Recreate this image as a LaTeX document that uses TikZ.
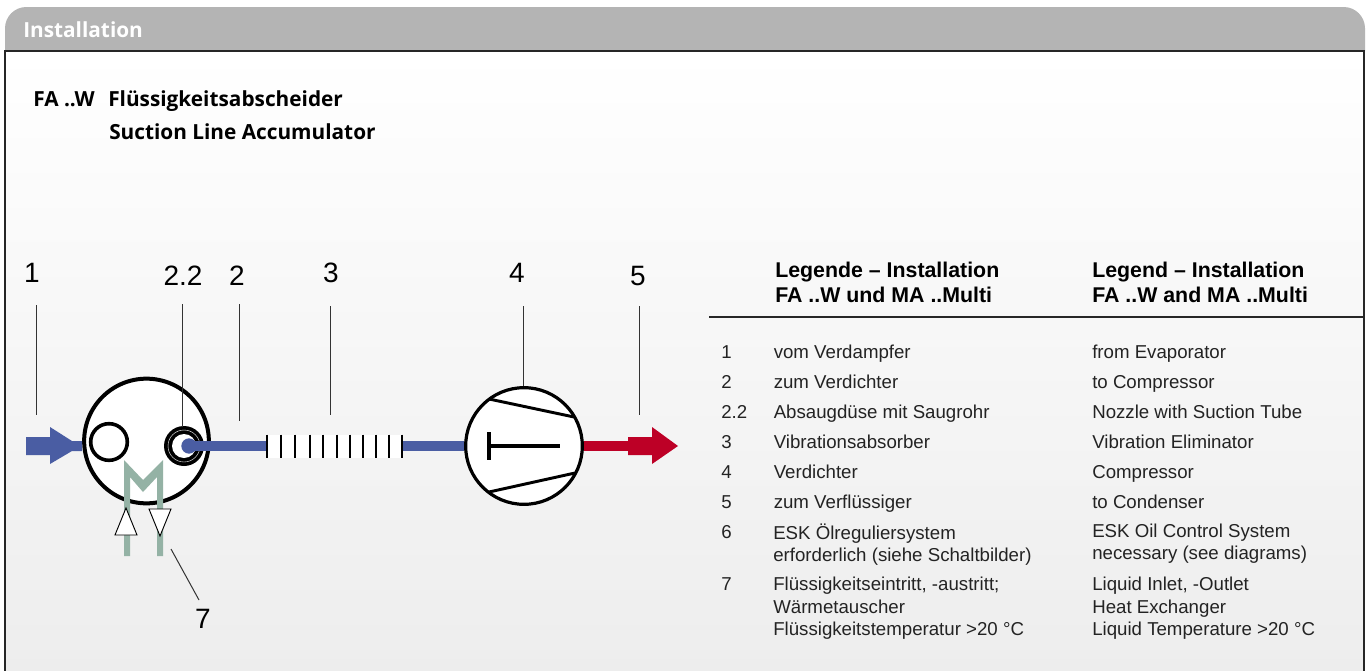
\documentclass[tikz,border=0pt]{standalone}
\usepackage{fontspec}
\setmainfont{Liberation Sans}
\newfontfamily\headfont{Open Sans}
\usepackage{tikz}
\usetikzlibrary{positioning}
\definecolor{tabgray}{RGB}{180,180,180}
\definecolor{pipeblue}{RGB}{74,93,163}
\definecolor{pipered}{RGB}{189,0,38}
\definecolor{coilgreen}{RGB}{148,178,165}
\definecolor{textgray}{RGB}{35,35,35}
\tikzset{
  numlabel/.style = {font=\fontsize{21}{21}\selectfont, inner sep=0pt},
  leader/.style = {draw=black!80, line width=0.75pt},
  ring/.style = {circle, draw, inner sep=0pt},
  bluepipe/.style = {draw=pipeblue, line width=7.5pt},
  redpipe/.style = {draw=pipered, line width=7.5pt},
  legendtext/.style = {font=\fontsize{14}{16.9}\selectfont, text=textgray, anchor=base west, inner sep=0pt, align=left},
  legendblock/.style = {legendtext, anchor=north west},
  legendhead/.style = {font=\fontsize{16}{18.8}\selectfont\bfseries, anchor=west, inner sep=0pt, align=left},
  headline/.style = {font=\headfont\fontsize{15.6}{16}\selectfont\bfseries, anchor=base west, inner sep=0pt}
}
\begin{document}
\begin{tikzpicture}[x=0.75pt, y=-0.75pt]
\useasboundingbox (0,0) rectangle (1371,671);
% panel
\fill[white] (0,0) rectangle (1371,671);
\fill[top color=white, bottom color=black!7] (5,51) rectangle (1364,671);
\fill[tabgray] (5,51) [rounded corners=16pt] -- (5,7) -- (1365,7) [sharp corners] -- (1365,51) -- cycle;
\draw[black!85, line width=1pt] (5,671) -- (5,51) -- (1364,51) -- (1364,671);
\node[headline, text=white] (tab) at (23,37) {Installation};
\node[headline] (title1) at (33,106) {FA ..W};
\node[headline] (title2) at (108,106) {Flüssigkeitsabscheider};
\node[headline] (title3) at (109,139) {Suction Line Accumulator};
% separator
\node[ring, fill=white, line width=3pt, minimum size=93.5pt] (sep) at (146.5,441) {};
\node[ring, line width=2.7pt, minimum size=27.5pt] (port) at (109,442) {};
\node[circle, fill=black, minimum size=30pt, inner sep=0pt] (noz) at (184,446) {};
\node[ring, draw=white, line width=0.3pt, minimum size=24pt] (nozrim) at (184,446) {};
\node[circle, fill=white, minimum size=18pt, inner sep=0pt] (nozin) at (184,446) {};
\node[circle, fill=pipeblue, minimum size=11.5pt, inner sep=0pt] (nozdot) at (189,446) {};
% compressor
\node[ring, fill=white, line width=2.4pt, minimum size=87.5pt] (comp) at (524,446) {};
% vibration absorber
\node[fill=white, minimum width=102pt, minimum height=17.25pt, inner sep=0pt] (vib) at (335,446) {};
\draw[bluepipe] (nozdot.center) -- (vib.west);
\draw[bluepipe] (vib.east) -- (comp.west);
\foreach \xpos in {267,281,295,310,323,337,350,363,376,389,402}
  \draw[black, line width=1.4pt] (\xpos,434.5) -- (\xpos,457.5);
% inlet arrow
\fill[pipeblue] (26,437) -- (50,437) -- (50,427) -- (72,441) -- (82,441) -- (82,451) -- (72,451) -- (50,464) -- (50,455) -- (26,455) -- cycle;
% compressor inside
\draw[line width=2.2pt] (489,399) -- (574,417);
\draw[line width=2.2pt] (489,492) -- (575,473);
\draw[line width=3pt] (489,432) -- (489,460);
\draw[line width=3pt] (489,446) -- (560,446);
% outlet arrow
\coordinate (outA) at (628,446);
\draw[redpipe] (comp.east) -- (outA);
\fill[pipered] (628,437) -- (652,437) -- (652,427) -- (678,446) -- (652,464) -- (652,455) -- (628,455) -- cycle;
% coil
\fill[coilgreen] (124,556) -- (124,460) -- (143,480) -- (163,460) -- (163,556) -- (157,556) -- (157,477) -- (143,492) -- (130,477) -- (130,556) -- cycle;
\draw[fill=white, line width=0.7pt] (126,508) -- (115,535) -- (137,535) -- cycle;
\draw[fill=white, line width=0.7pt] (149,509) -- (171,509) -- (160,536) -- cycle;
% numbers
\node[numlabel] (n1) at (32,273) {1};
\node[numlabel] (n22) at (183,276) {2.2};
\node[numlabel] (n2) at (237,276) {2};
\node[numlabel] (n3) at (331,273) {3};
\node[numlabel] (n4) at (517,273) {4};
\node[numlabel] (n5) at (638,276) {5};
\node[numlabel] (n7) at (203,619) {7};
\foreach \tag/\xa/\ya/\xb/\yb in {
  a/36/305/36/415,
  b/182/304/182/427,
  c/239/304/239/421,
  d/330/306/330/415,
  e/523/306/523/386,
  f/639/306/639/415,
  g/171/549/199/600}
{
  \coordinate (\tag top) at (\xa,\ya);
  \coordinate (\tag end) at (\xb,\yb);
  \draw[leader] (\tag top) -- (\tag end);
}
% legend
\node[legendhead] (hde) at (775,282) {Legende – Installation\\FA ..W und MA ..Multi};
\node[legendhead] (hen) at (1092,282) {Legend – Installation\\FA ..W and MA ..Multi};
\draw[black!85, line width=0.8pt] (709,317) -- (1364,317);
\foreach \yval/\num/\de/\en in {
  358/1/vom Verdampfer/from Evaporator,
  388/2/zum Verdichter/to Compressor,
  418/2.2/Absaugdüse mit Saugrohr/Nozzle with Suction Tube,
  448/3/Vibrationsabsorber/Vibration Eliminator,
  478/4/Verdichter/Compressor,
  508/5/zum Verflüssiger/to Condenser}
{
  \node[legendtext] at (721,\yval) {\num};
  \node[legendtext] at (773.5,\yval) {\de};
  \node[legendtext] at (1092,\yval) {\en};
}
\node[legendtext] (l6) at (721,538) {6};
\node[legendblock] (l6de) at (773,523.5) {ESK Ölreguliersystem\\erforderlich (siehe Schaltbilder)};
\node[legendblock] (l6en) at (1092,523.5) {ESK Oil Control System\\necessary (see diagrams)};
\node[legendtext] (l7) at (721,590) {7};
\node[legendblock] (l7de) at (773,577) {Flüssigkeitseintritt, -austritt;\\Wärmetauscher\\Flüssigkeitstemperatur >20 °C};
\node[legendblock] (l7en) at (1092,577) {Liquid Inlet, -Outlet\\Heat Exchanger\\Liquid Temperature >20 °C};
\end{tikzpicture}
\end{document}
